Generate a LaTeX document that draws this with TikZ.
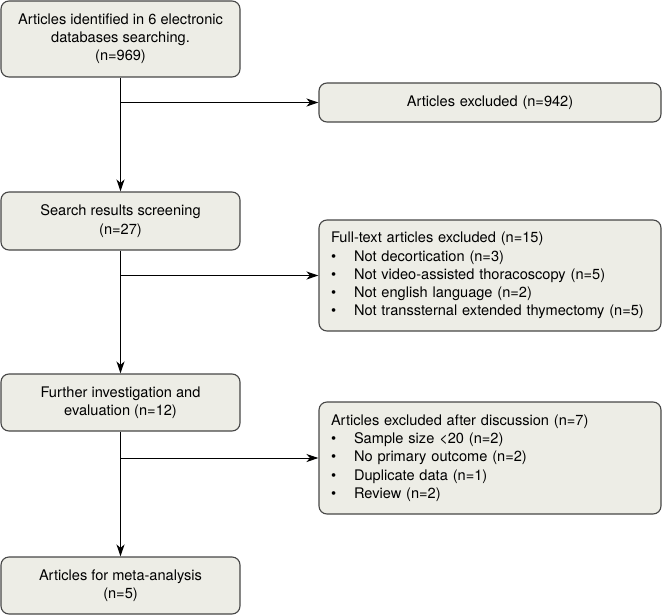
\documentclass[tikz,border=0pt]{standalone}
\usepackage{fontspec}
\setmainfont{TeX Gyre Heros}
\usetikzlibrary{arrows.meta}
\definecolor{boxfill}{RGB}{237,237,230}
\definecolor{boxline}{RGB}{70,70,70}

\begin{document}
\begin{tikzpicture}[x=1pt,y=-1pt]
  \tikzstyle{flowbox}=[draw=boxline,fill=boxfill,line width=1.1pt,rounded corners=8pt,font=\fontsize{14.6}{18.2}\selectfont]
  \tikzstyle{mainbox}=[flowbox,minimum width=239pt,align=center]
  \tikzstyle{exbox}=[flowbox,minimum width=342pt,text width=318pt,align=left]
  \tikzstyle{flow}=[-{Stealth[length=12pt,width=8pt,inset=3.5pt]},line width=1pt]
  \useasboundingbox (0,0) rectangle (663,615);
  \node[mainbox,minimum height=76pt] (ident) at (120.5,39) {Articles identified in 6 electronic\\databases searching.\\(n=969)};
  \node[mainbox,minimum height=58pt] (screen) at (120.5,221) {Search results screening\\(n=27)};
  \node[mainbox,minimum height=57pt] (further) at (120.5,402.5) {Further investigation and\\evaluation (n=12)};
  \node[mainbox,minimum height=57pt] (meta) at (120.5,585.5) {Articles for meta-analysis\\(n=5)};
  \node[exbox,minimum height=39pt,align=center] (excl) at (490,102.5) {Articles excluded (n=942)};
  \node[exbox,minimum height=111pt] (fulltext) at (490,275.5) {Full-text articles excluded (n=15)\\
    \makebox[23pt][l]{\textbullet}Not decortication (n=3)\\
    \makebox[23pt][l]{\textbullet}Not video-assisted thoracoscopy (n=5)\\
    \makebox[23pt][l]{\textbullet}Not english language (n=2)\\
    \makebox[23pt][l]{\textbullet}Not transsternal extended thymectomy (n=5)};
  \node[exbox,minimum height=112pt] (discuss) at (490,458) {Articles excluded after discussion (n=7)\\
    \makebox[23pt][l]{\textbullet}Sample size <20 (n=2)\\
    \makebox[23pt][l]{\textbullet}No primary outcome (n=2)\\
    \makebox[23pt][l]{\textbullet}Duplicate data (n=1)\\
    \makebox[23pt][l]{\textbullet}Review (n=2)};
  \draw[flow] (ident) -- (screen);
  \draw[flow] (screen) -- (further);
  \draw[flow] (further) -- (meta);
  \draw[flow] (ident.south |- excl.west) -- (excl.west);
  \draw[flow] (screen.south |- fulltext.west) -- (fulltext.west);
  \draw[flow] (further.south |- discuss.west) -- (discuss.west);
\end{tikzpicture}
\end{document}
